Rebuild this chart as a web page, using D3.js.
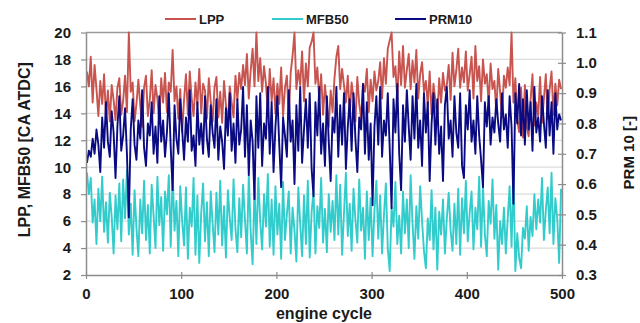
<!DOCTYPE html>
<html><head><meta charset="utf-8">
<script src="https://cdn.jsdelivr.net/npm/d3@7"></script>
<style>
body{margin:0;background:#fff}
svg{display:block}
text{font-family:"Liberation Sans",Arial,Helvetica,sans-serif;font-weight:bold;fill:#1a1a1a}
</style>
</head><body>
<svg id="chart" width="640" height="323"></svg>
<script>
// sampled engine cycles: 1, 3, 5, ... 499
const firstCycle=1, cycleStep=2;
// LPP [CA ATDC]
const lpp=[
17.1,16.0,18.2,14.8,17.6,15.8,13.8,16.4,14.7,16.9,
13.7,15.7,13.4,16.1,15.0,13.5,15.9,16.6,13.9,14.9,
16.8,14.1,20.0,15.6,16.3,13.4,14.7,16.5,14.6,13.0,
15.9,16.8,13.8,15.0,17.2,14.0,16.1,15.1,13.3,16.6,
14.8,17.0,14.1,16.3,15.6,18.7,14.9,16.0,13.6,15.8,
12.6,15.0,16.9,13.9,17.1,15.1,13.8,16.3,14.6,17.3,
14.0,16.2,15.7,13.6,16.6,14.9,13.4,15.9,16.7,13.7,
15.6,13.3,16.4,14.6,13.1,16.0,14.8,13.7,16.8,15.0,
17.0,15.8,17.6,16.1,18.4,15.1,17.2,18.8,16.0,20.0,
16.4,18.1,15.6,17.5,16.2,14.1,17.3,14.9,16.6,14.0,
16.2,14.7,17.4,13.8,15.9,16.8,13.7,17.0,18.3,20.0,
15.8,17.2,16.1,18.6,14.9,17.7,16.0,18.9,19.3,20.0,
16.2,17.4,15.0,16.9,13.9,16.1,14.6,13.0,15.7,14.1,
16.6,18.2,19.0,15.8,17.3,16.1,14.8,16.8,13.8,16.3,
15.1,13.4,16.7,14.7,13.6,16.2,15.6,17.3,14.1,16.5,
14.9,17.1,15.7,16.4,17.8,15.1,18.1,16.2,18.8,19.4,
20.0,16.7,17.5,15.0,18.6,16.1,19.0,15.9,17.2,18.4,
15.8,17.9,16.3,18.7,15.1,16.9,17.8,15.6,16.4,14.6,
17.1,13.9,16.2,14.9,13.6,16.6,14.8,17.0,15.7,16.1,
17.6,15.0,18.5,16.0,17.2,18.8,15.9,17.4,16.3,18.6,
15.7,16.9,18.2,15.1,19.0,16.4,17.5,14.9,18.0,16.2,
16.9,14.7,17.7,15.8,16.4,14.1,17.3,15.6,13.7,16.8,
15.9,17.4,16.1,20.0,14.8,16.6,13.5,12.6,15.9,12.2,
16.1,13.0,12.3,15.0,16.9,13.1,14.8,13.8,16.7,13.3,
15.1,16.9,13.6,15.8,17.1,13.9,16.2,14.6,16.5,15.8
];
// MFB50 [CA ATDC]
const mfb50=[
9.6,8.0,9.2,5.9,7.6,4.3,8.4,6.0,9.3,5.2,
7.4,4.4,8.1,6.3,3.6,7.9,5.4,8.8,4.5,9.1,
6.2,9.8,5.0,7.3,3.5,8.3,5.5,3.4,7.6,5.1,
9.0,4.6,7.2,3.6,8.7,6.4,4.0,9.3,5.7,7.8,
3.8,8.2,6.5,9.4,4.1,9.6,5.3,7.5,3.4,8.6,
6.0,4.2,8.5,3.2,7.0,5.6,9.2,3.5,7.9,2.9,
6.6,8.8,4.5,7.4,3.4,8.2,5.8,3.7,8.1,5.0,
9.0,4.2,7.1,3.3,8.3,6.2,4.6,9.1,5.4,3.7,
7.7,4.8,8.7,6.1,3.6,9.4,5.2,2.8,8.5,4.3,
9.2,6.0,3.9,8.0,5.6,9.5,4.1,7.6,3.5,8.6,
5.0,7.3,3.2,8.9,4.6,6.5,8.2,3.6,7.0,5.3,
3.0,8.5,5.8,3.4,7.9,4.3,9.0,3.3,6.7,8.2,
3.6,7.1,5.5,9.2,4.4,6.9,3.7,8.0,5.2,7.5,
4.6,9.4,5.0,8.7,3.5,6.6,9.6,4.9,7.3,3.8,
8.4,6.1,4.4,9.1,5.3,7.0,3.2,8.2,4.6,7.7,
3.4,6.8,9.0,4.7,7.9,3.6,6.5,8.8,4.0,2.3,
7.0,5.6,8.9,4.3,6.4,3.6,8.2,5.1,7.6,4.0,
9.4,5.8,3.2,7.1,4.7,8.6,6.0,3.8,2.5,6.2,
4.6,8.3,3.9,7.0,2.4,6.7,5.0,7.6,3.6,6.2,
8.1,5.3,3.8,7.3,4.3,8.4,3.5,7.7,5.1,9.0,
4.5,6.6,8.2,3.9,7.0,5.4,9.3,4.1,8.6,5.0,
3.4,7.5,5.8,9.1,4.7,7.2,2.4,6.0,4.3,7.0,
3.6,6.2,8.6,4.1,9.5,2.3,5.1,3.3,2.5,5.5,
4.7,7.1,3.8,6.3,4.9,8.0,5.4,7.6,5.9,9.2,
4.6,6.8,8.5,5.1,9.6,4.3,7.7,6.2,2.9,8.4
];
// PRM10 [-] (right axis)
const prm10=[
0.67,0.71,0.69,0.75,0.70,0.78,0.73,0.64,0.82,0.72,
0.87,0.74,0.69,0.84,0.77,0.62,0.79,0.89,0.71,0.76,
0.85,0.70,0.49,0.78,0.88,0.73,0.68,0.81,0.75,0.91,
0.72,0.66,0.80,0.76,0.87,0.70,0.79,0.67,0.89,0.74,
0.81,0.69,0.77,0.90,0.72,0.58,0.86,0.75,0.70,0.88,
0.78,0.68,0.82,0.74,0.91,0.71,0.76,0.66,0.87,0.73,
0.80,0.70,0.89,0.75,0.69,0.86,0.77,0.72,0.88,0.68,
0.79,0.74,0.65,0.85,0.76,0.90,0.71,0.80,0.67,0.88,
0.73,0.78,0.92,0.69,0.86,0.63,0.81,0.74,0.55,0.89,
0.72,0.90,0.66,0.80,0.75,0.92,0.70,0.87,0.64,0.79,
0.89,0.73,0.59,0.82,0.76,0.69,0.91,0.74,0.81,0.60,
0.86,0.71,0.92,0.67,0.78,0.88,0.72,0.90,0.65,0.56,
0.87,0.76,0.92,0.70,0.80,0.66,0.89,0.74,0.61,0.82,
0.77,0.92,0.69,0.86,0.73,0.90,0.65,0.79,0.88,0.71,
0.90,0.75,0.64,0.82,0.78,0.93,0.70,0.87,0.68,0.80,
0.53,0.79,0.89,0.73,0.92,0.69,0.81,0.76,0.90,0.72,
0.52,0.88,0.77,0.93,0.70,0.58,0.86,0.74,0.91,0.79,
0.68,0.89,0.75,0.93,0.72,0.81,0.66,0.90,0.77,0.87,
0.61,0.80,0.90,0.73,0.88,0.70,0.79,0.61,0.86,0.92,
0.75,0.81,0.69,0.89,0.77,0.72,0.90,0.66,0.62,0.86,
0.78,0.91,0.74,0.81,0.70,0.89,0.76,0.68,0.59,0.87,
0.79,0.89,0.73,0.82,0.77,0.88,0.80,0.74,0.90,0.78,
0.83,0.72,0.89,0.79,0.535,0.90,0.80,0.93,0.76,0.88,
0.73,0.91,0.78,0.87,0.71,0.92,0.77,0.82,0.74,0.89,
0.80,0.72,0.91,0.76,0.87,0.70,0.90,0.78,0.83,0.81
];
const xTickValues=[0,100,200,300,400,500];
const leftTickValues=[2,4,6,8,10,12,14,16,18,20];
const rightTickValues=[0.3,0.4,0.5,0.6,0.7,0.8,0.9,1.0,1.1];
const seriesNames=["LPP","MFB50","PRM10"];
const xTitle="engine cycle";
const leftTitle="LPP, MFB50 [CA ATDC]";
const rightTitle="PRM 10 [-]";

const colors={LPP:"#c8544f",MFB50:"#33cccc",PRM10:"#0a0a82"};
const L=86,R=562,T=32.5,B=275;
const svg=d3.select("#chart");
svg.append("rect").attr("width",640).attr("height",323).attr("fill","#fff");

const x=d3.scaleLinear().domain([0,500]).range([L,R]);
const yL=d3.scaleLinear().domain([2,20]).range([B,T]);
const yR=d3.scaleLinear().domain([0.3,1.1]).range([B,T]);

svg.append("g").selectAll("line").data(leftTickValues.filter(v=>v>2&&v<20)).join("line")
  .attr("x1",L).attr("x2",R).attr("y1",d=>yL(d)).attr("y2",d=>yL(d))
  .attr("stroke","#dcdcdc").attr("stroke-width",1.2);
svg.append("line").attr("x1",L).attr("x2",R).attr("y1",T).attr("y2",T).attr("stroke","#9a9a9a").attr("stroke-width",1.5);

const series=[{name:"LPP",data:lpp,y:yL},{name:"MFB50",data:mfb50,y:yL},{name:"PRM10",data:prm10,y:yR}];
svg.append("clipPath").attr("id","clip").append("rect").attr("x",L).attr("y",T-2).attr("width",R-L).attr("height",B-T+4);
series.forEach(s=>{
  const line=d3.line().x((d,i)=>x(firstCycle+cycleStep*i)).y(d=>s.y(d));
  svg.append("path").datum(s.data).attr("d",line).attr("fill","none")
    .attr("stroke",colors[s.name]).attr("stroke-width",1.9).attr("stroke-linejoin","round")
    .attr("clip-path","url(#clip)");
});

function styleAxis(g){
  g.select(".domain").attr("stroke","#8c8c8c").attr("stroke-width",1.5);
  g.selectAll(".tick line").attr("stroke","#8c8c8c").attr("stroke-width",1.2);
  g.selectAll(".tick text").style("font-size","15px").attr("fill","#1a1a1a");
}
const gx=svg.append("g").attr("transform",`translate(0,${B})`)
  .call(d3.axisBottom(x).tickValues(xTickValues).tickSizeInner(4).tickSizeOuter(0).tickPadding(9).tickFormat(d3.format("d")));
styleAxis(gx);
gx.selectAll(".tick line").attr("y1",-3);

const gl=svg.append("g").attr("transform",`translate(${L},0)`)
  .call(d3.axisLeft(yL).tickValues(leftTickValues).tickSizeInner(5).tickSizeOuter(0).tickPadding(10).tickFormat(d3.format("d")));
styleAxis(gl);

const gr=svg.append("g").attr("transform",`translate(${R},0)`)
  .call(d3.axisRight(yR).tickValues(rightTickValues).tickSizeInner(4).tickSizeOuter(0).tickPadding(10).tickFormat(d3.format(".1f")));
styleAxis(gr);
gr.selectAll(".tick line").attr("x1",-4);

svg.append("text").attr("x",(L+R)/2).attr("y",319).attr("text-anchor","middle").style("font-size","16px").text(xTitle);
svg.append("text").attr("transform",`translate(30,${(T+B)/2-4}) rotate(-90)`).attr("text-anchor","middle").style("font-size","16px").text(leftTitle);
svg.append("text").attr("transform",`translate(634,${(T+B)/2-1}) rotate(-90)`).attr("text-anchor","middle").style("font-size","15px").text(rightTitle);

const legX=[165,272,395];
seriesNames.forEach((n,i)=>{
  const g=svg.append("g").attr("transform",`translate(${legX[i]},19)`);
  g.append("line").attr("x1",0).attr("x2",31).attr("y1",0).attr("y2",0).attr("stroke",colors[n]).attr("stroke-width",2);
  g.append("text").attr("x",34).attr("y",4.5).style("font-size","13px").text(n);
});
</script>
</body></html>
